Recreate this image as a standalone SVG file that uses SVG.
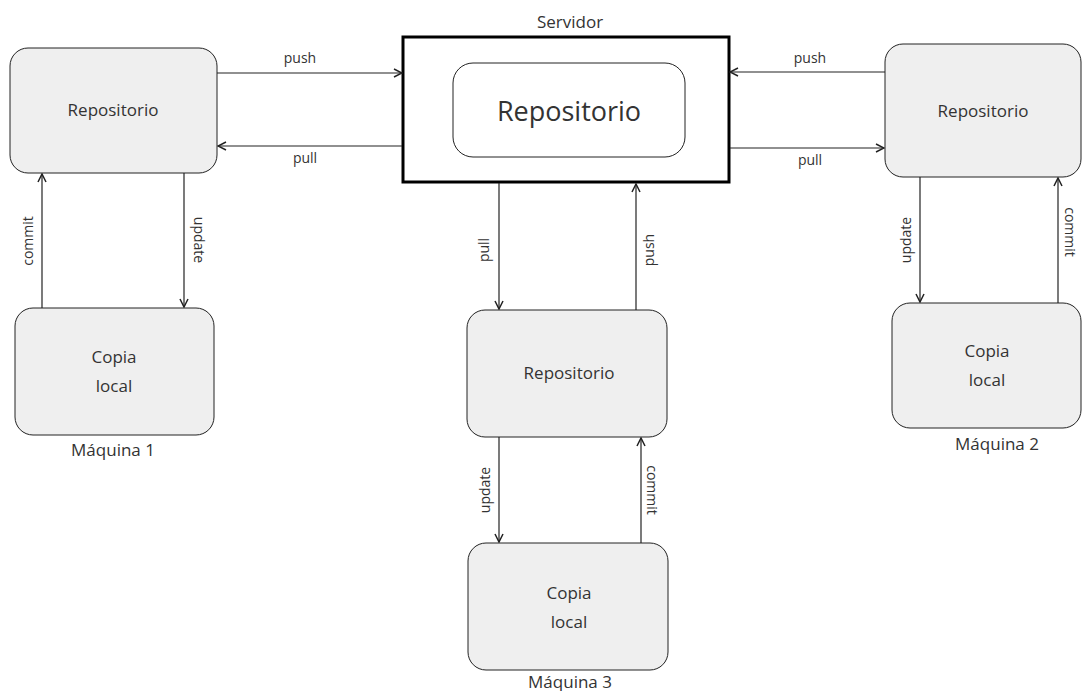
<svg xmlns="http://www.w3.org/2000/svg" width="1083" height="691" viewBox="0 0 1083 691">
<defs>
<marker id="arr" viewBox="0 0 10 10" refX="9" refY="5" markerWidth="10" markerHeight="10" markerUnits="userSpaceOnUse" orient="auto">
<polyline points="1,1 9,5 1,9" fill="none" stroke="#222" stroke-width="1.5"/>
</marker>
<style>
.node{fill:#efefef;stroke:#222;stroke-width:1}
.t{font-family:"Open Sans","Noto Sans",sans-serif;fill:#333;text-anchor:middle}
.n{font-size:17px}
.l{font-size:14px}
.c{stroke:#222;stroke-width:1.2;fill:none;marker-end:url(#arr)}
</style>
</defs>
<rect width="1083" height="691" fill="#fff"/>
<g id="server">
<rect x="403" y="37" width="326" height="145" fill="#fff" stroke="#000" stroke-width="3"/>
<text class="t" x="570" y="28" font-size="17px">Servidor</text>
<rect x="453" y="63" width="232" height="94" rx="20" fill="#fff" stroke="#222" stroke-width="1"/>
<text class="t" x="569" y="121" font-size="27px" fill="#111">Repositorio</text>
</g>
<g id="repo1">
<rect class="node" x="10" y="48" width="207" height="125" rx="18"/>
<text class="t n" x="113" y="116">Repositorio</text>
</g>
<g id="copia1">
<rect class="node" x="15" y="308" width="199" height="127" rx="18"/>
<text class="t n" x="114" y="363">Copia</text>
<text class="t n" x="114" y="392">local</text>
<text class="t n" x="113" y="456">Máquina 1</text>
</g>
<g id="repo2">
<rect class="node" x="885" y="44" width="196" height="133" rx="18"/>
<text class="t n" x="983" y="117">Repositorio</text>
</g>
<g id="copia2">
<rect class="node" x="892" y="303" width="189" height="125" rx="18"/>
<text class="t n" x="987" y="357">Copia</text>
<text class="t n" x="987" y="386">local</text>
<text class="t n" x="997" y="450">Máquina 2</text>
</g>
<g id="repo3">
<rect class="node" x="467" y="310" width="200" height="127" rx="18"/>
<text class="t n" x="569" y="379">Repositorio</text>
</g>
<g id="copia3">
<rect class="node" x="468" y="543" width="200" height="127" rx="18"/>
<text class="t n" x="569" y="599">Copia</text>
<text class="t n" x="569" y="628">local</text>
<text class="t n" x="570" y="688">Máquina 3</text>
</g>
<g id="connectors">
<line class="c" x1="217" y1="73" x2="402" y2="73"/>
<line class="c" x1="402" y1="146" x2="218" y2="146"/>
<line class="c" x1="885" y1="72" x2="730" y2="72"/>
<line class="c" x1="730" y1="148" x2="884" y2="148"/>
<line class="c" x1="42" y1="308" x2="42" y2="174"/>
<line class="c" x1="184" y1="173" x2="184" y2="307"/>
<line class="c" x1="499" y1="183" x2="499" y2="309"/>
<line class="c" x1="636" y1="310" x2="636" y2="184"/>
<line class="c" x1="499" y1="437" x2="499" y2="542"/>
<line class="c" x1="641" y1="543" x2="641" y2="438"/>
<line class="c" x1="920" y1="177" x2="920" y2="302"/>
<line class="c" x1="1058" y1="303" x2="1058" y2="178"/>
<text class="t l" x="300" y="63">push</text>
<text class="t l" x="305" y="163">pull</text>
<text class="t l" x="810" y="63">push</text>
<text class="t l" x="810" y="165">pull</text>
<text class="t l" transform="translate(33,241) rotate(-90)">commit</text>
<text class="t l" transform="translate(194,240) rotate(90)">update</text>
<text class="t l" transform="translate(489,250) rotate(-90)">pull</text>
<text class="t l" transform="translate(654,250) rotate(-90)">push</text>
<text class="t l" transform="translate(490,490) rotate(-90)">update</text>
<text class="t l" transform="translate(647,490) rotate(90)">commit</text>
<text class="t l" transform="translate(911,240) rotate(-90)">update</text>
<text class="t l" transform="translate(1065,232) rotate(90)">commit</text>
</g>
</svg>
